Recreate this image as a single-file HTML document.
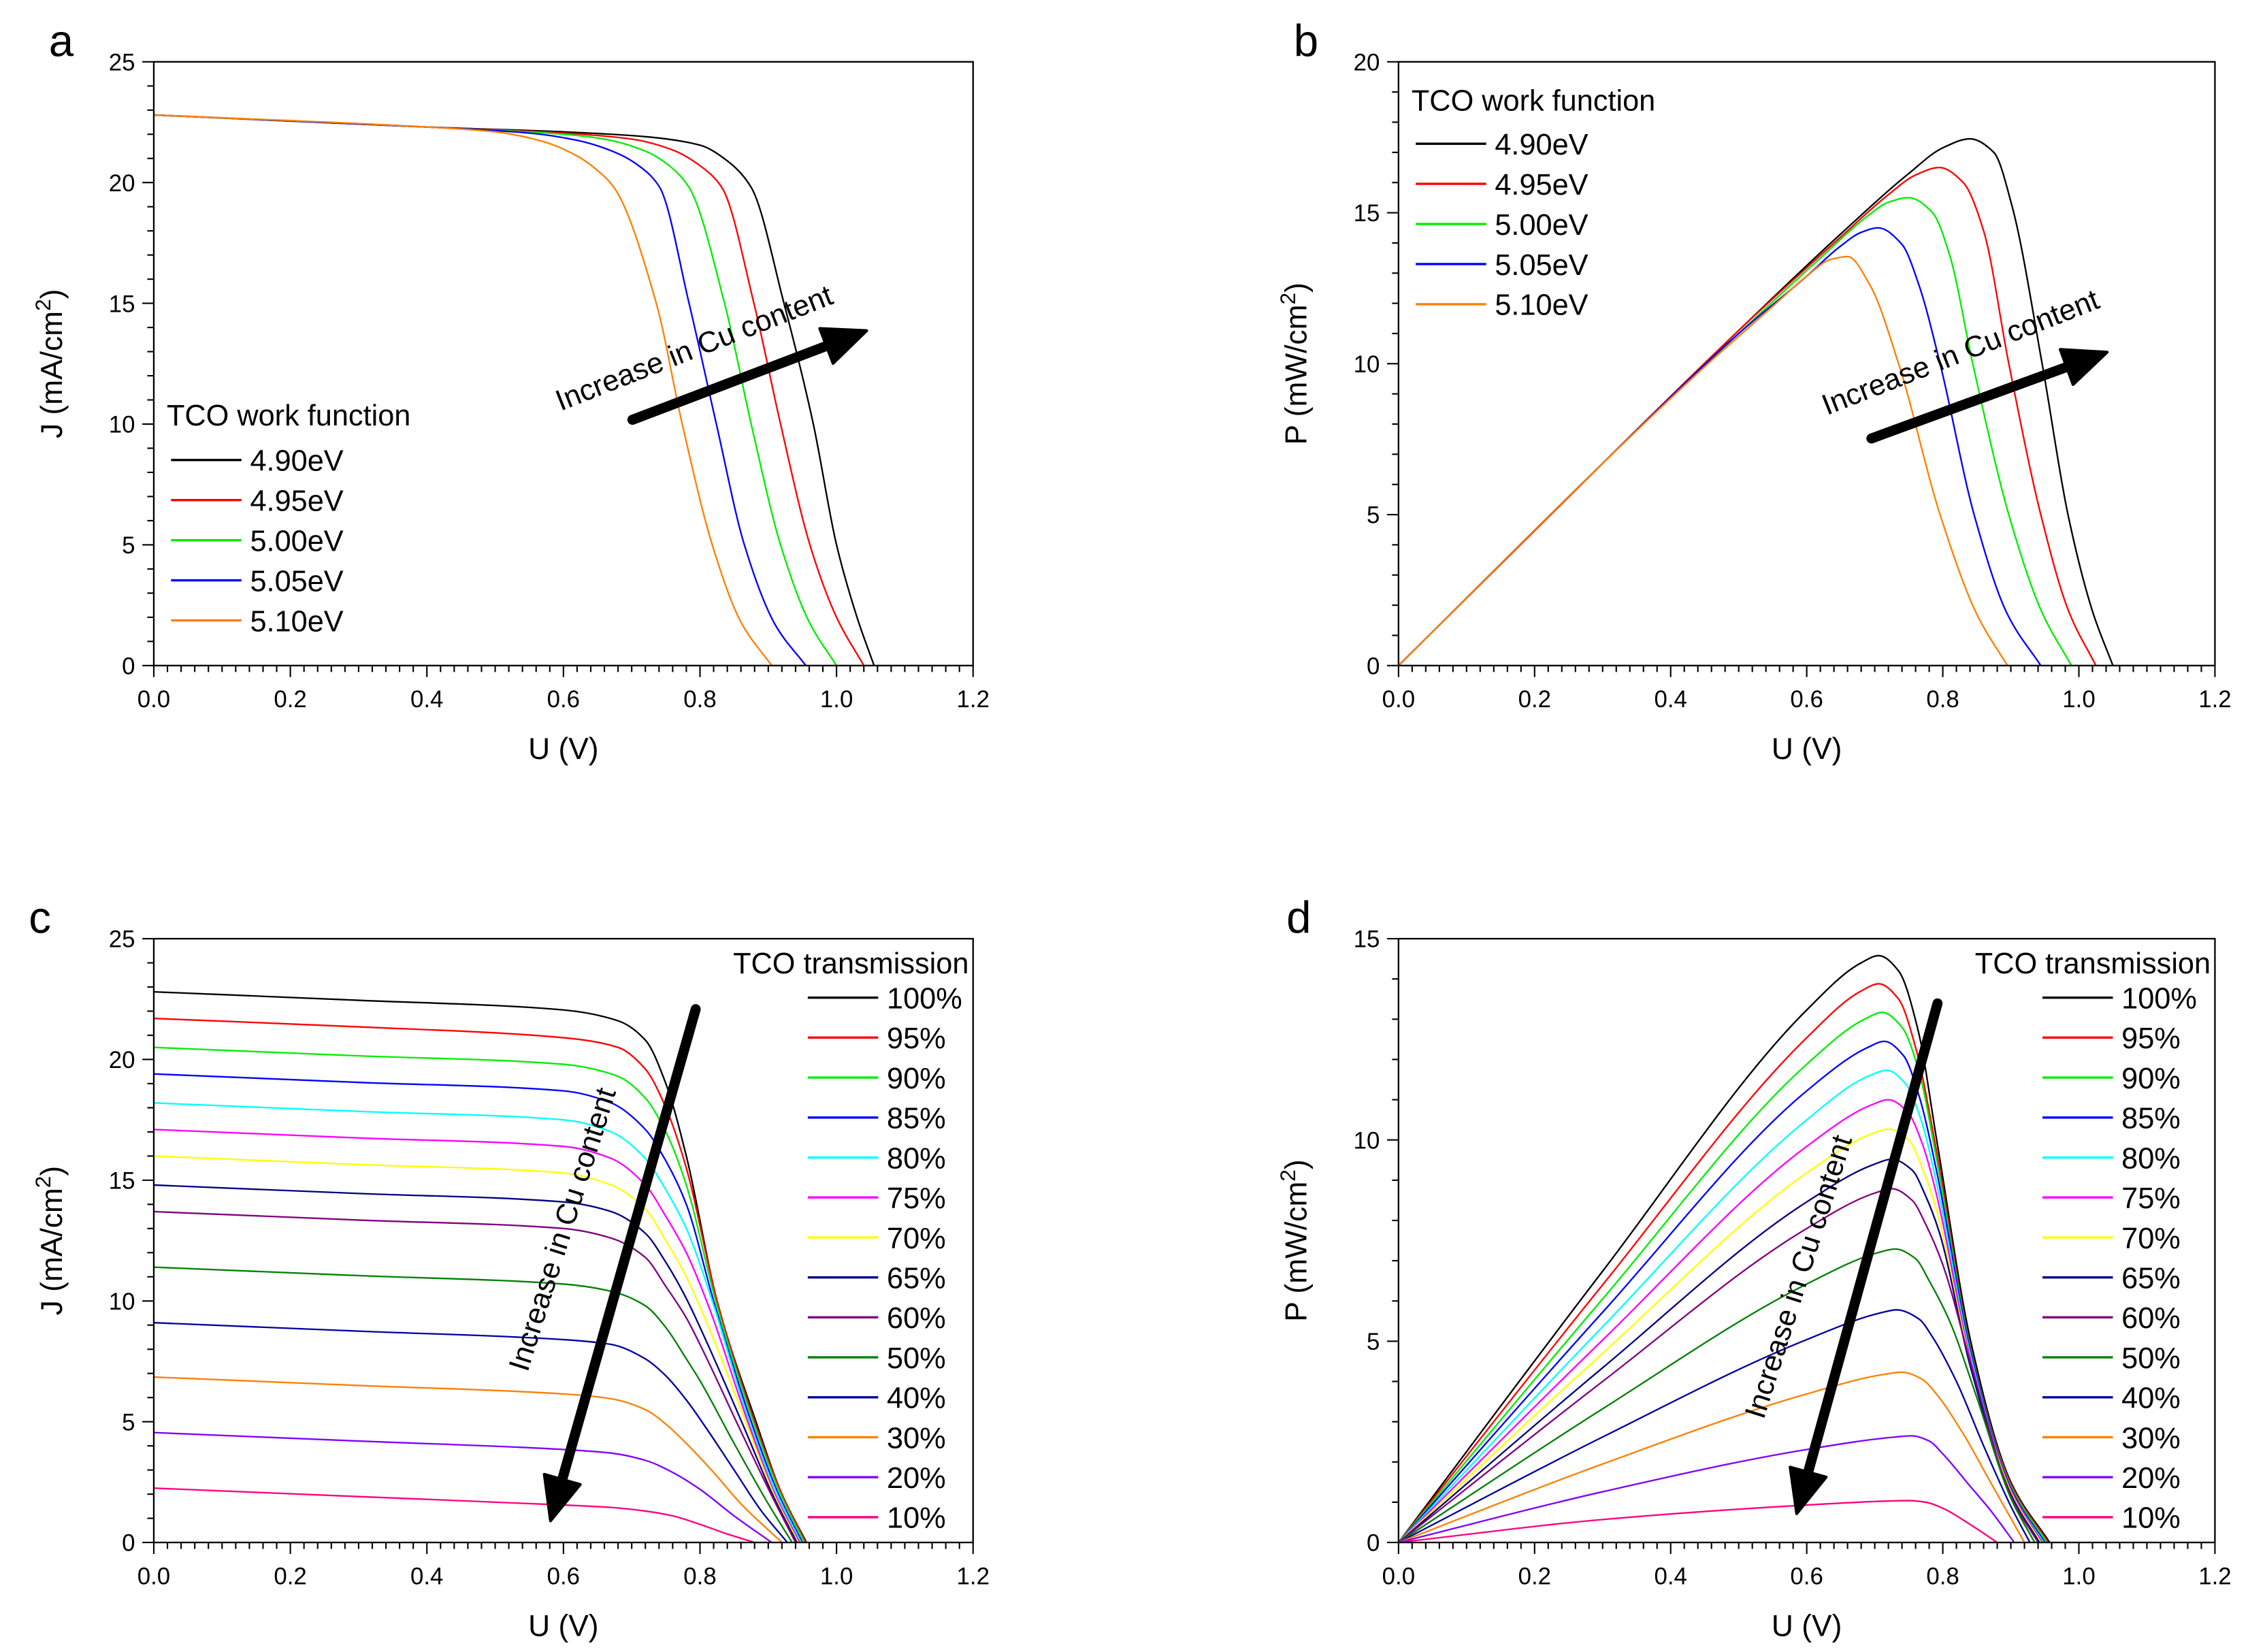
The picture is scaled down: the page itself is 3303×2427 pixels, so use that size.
<!DOCTYPE html>
<html><head><meta charset="utf-8"><style>
html,body{margin:0;padding:0;background:#fff;}
svg{display:block;}
text{font-family:"Liberation Sans",Arial,sans-serif;fill:#000;}
</style></head><body>
<svg id="fig" width="3303" height="2427" viewBox="0 0 1564 1149.2" preserveAspectRatio="none" xmlns="http://www.w3.org/2000/svg"></svg>
<script>
// ---------- Panel a: J-V vs work function ----------
const aLabels = ["4.90eV","4.95eV","5.00eV","5.05eV","5.10eV"];
const aColors = ["#000000","#ff0000","#00ee00","#0000ff","#ff8000"];
const aU490 = [0,0.4,0.6,0.72,0.8,0.84,0.875,0.923,0.966,1.0,1.03,1.055];
const aJ490 = [22.8,22.3,22.1,21.9,21.55,20.9,19.8,15,10,5,2,0];
const aU495 = [0,0.4,0.6,0.7,0.76,0.8,0.832,0.879,0.918,0.961,1.0,1.04];
const aJ495 = [22.8,22.3,22.05,21.8,21.35,20.7,19.8,15,10,5,2,0];
const aU500 = [0,0.4,0.6,0.66,0.72,0.755,0.784,0.836,0.875,0.918,0.96,1.0];
const aJ500 = [22.8,22.3,22.0,21.8,21.3,20.7,19.8,15,10,5,1.8,0];
const aU505 = [0,0.4,0.55,0.62,0.68,0.715,0.741,0.784,0.824,0.865,0.91,0.955];
const aJ505 = [22.8,22.3,22.05,21.75,21.2,20.6,19.8,15,10,5,1.7,0];
const aU510 = [0,0.4,0.5,0.57,0.62,0.65,0.674,0.736,0.774,0.818,0.86,0.905];
const aJ510 = [22.8,22.3,22.1,21.7,21.1,20.5,19.8,15,10,5,1.8,0];
// ---------- Panel b: P-V vs work function ----------
const bU490 = [0,0.3,0.5,0.65,0.75,0.8,0.84,0.875,0.902,0.946,0.984,1.02,1.05];
const bP490 = [0,6.7,11.1,14.3,16.3,17.15,17.45,17.0,15.2,10,5,1.8,0];
const bU495 = [0,0.3,0.5,0.65,0.72,0.76,0.795,0.83,0.86,0.897,0.944,0.985,1.025];
const bP495 = [0,6.7,11.1,14.2,15.6,16.25,16.5,16.0,14.4,10,5,1.8,0];
const bU500 = [0,0.3,0.5,0.62,0.69,0.72,0.75,0.785,0.81,0.844,0.897,0.945,0.989];
const bP500 = [0,6.7,11.0,13.5,14.9,15.35,15.5,15.0,13.6,10,5,1.8,0];
const bU505 = [0,0.3,0.5,0.6,0.65,0.68,0.705,0.74,0.765,0.796,0.846,0.895,0.944];
const bP505 = [0,6.7,11.0,12.9,13.9,14.35,14.5,13.95,12.6,10,5,1.7,0];
const bU510 = [0,0.3,0.45,0.55,0.6,0.635,0.66,0.693,0.735,0.796,0.85,0.895];
const bP510 = [0,6.7,9.9,11.9,12.9,13.45,13.55,12.6,10,5,1.7,0];
// ---------- Panel c: J-V vs transmission ----------
const cLabels = ["100%","95%","90%","85%","80%","75%","70%","65%","60%","50%","40%","30%","20%","10%"];
const cColors = ["#000000","#ff0000","#00ee00","#0000ff","#00ffff","#ff00ff","#ffff00","#000080","#800080","#008000","#0000a0","#ff8000","#8000ff","#ff0080"];
const cU100 = [0,0.3,0.6,0.68,0.72,0.75,0.78,0.825,0.882,0.92,0.956];
const cJ100 = [22.8,22.45,22.05,21.6,20.8,19,16,10,5,2,0];
const cU95 = [0,0.3,0.6,0.68,0.72,0.75,0.78,0.825,0.88,0.92,0.955];
const cJ95 = [21.7,21.35,20.9,20.5,19.6,18.0,15.5,10,5,2,0];
const cU90 = [0,0.3,0.6,0.68,0.72,0.75,0.78,0.823,0.878,0.918,0.953];
const cJ90 = [20.5,20.15,19.8,19.3,18.4,17,14.8,10,5,2,0];
const cU85 = [0,0.3,0.6,0.67,0.72,0.75,0.78,0.82,0.875,0.915,0.95];
const cJ85 = [19.4,19.05,18.7,18.2,17.1,15.8,14,10,5,2,0];
const cU80 = [0,0.3,0.6,0.67,0.72,0.75,0.78,0.818,0.872,0.913,0.948];
const cJ80 = [18.2,17.85,17.5,17.0,15.9,14.6,13,10,5,2,0];
const cU75 = [0,0.3,0.6,0.67,0.72,0.75,0.78,0.815,0.87,0.91,0.946];
const cJ75 = [17.1,16.75,16.4,15.9,14.8,13.5,12,9.6,5,2,0];
const cU70 = [0,0.3,0.6,0.67,0.72,0.75,0.78,0.81,0.867,0.908,0.944];
const cJ70 = [16.0,15.65,15.3,14.8,13.8,12.5,11,9.1,5,2,0];
const cU65 = [0,0.3,0.6,0.67,0.72,0.75,0.78,0.805,0.864,0.906,0.942];
const cJ65 = [14.8,14.45,14.1,13.7,12.8,11.6,10.1,8.6,4.8,2,0];
const cU60 = [0,0.3,0.6,0.67,0.72,0.75,0.78,0.8,0.86,0.904,0.94];
const cJ60 = [13.7,13.35,13.0,12.6,11.8,10.6,9.3,8.2,4.6,2,0];
const cU50 = [0,0.3,0.6,0.67,0.72,0.75,0.78,0.8,0.85,0.9,0.935];
const cJ50 = [11.4,11.05,10.7,10.4,9.8,8.9,7.6,6.7,4.1,1.6,0];
const cU40 = [0,0.3,0.6,0.67,0.72,0.75,0.78,0.81,0.85,0.89,0.928];
const cJ40 = [9.1,8.75,8.4,8.2,7.6,6.9,5.9,4.7,3.0,1.3,0];
const cU30 = [0,0.3,0.6,0.67,0.72,0.75,0.78,0.82,0.86,0.92];
const cJ30 = [6.85,6.5,6.15,5.95,5.5,4.9,4.1,2.9,1.6,0];
const cU20 = [0,0.3,0.6,0.67,0.72,0.76,0.8,0.85,0.905];
const cJ20 = [4.55,4.2,3.85,3.7,3.4,2.9,2.2,1.1,0];
const cU10 = [0,0.3,0.6,0.67,0.72,0.76,0.8,0.84,0.88];
const cJ10 = [2.25,1.9,1.55,1.45,1.3,1.1,0.75,0.35,0];
// ---------- Panel d: P-V vs transmission ----------
const dU100 = [0,0.3,0.6,0.68,0.706,0.735,0.764,0.791,0.841,0.9,0.957];
const dP100 = [0,6.74,13.23,14.4,14.58,14.2,12.7,10,5,1.5,0];
const dU95 = [0,0.3,0.6,0.68,0.706,0.735,0.76,0.79,0.84,0.9,0.955];
const dP95 = [0,6.4,12.54,13.7,13.88,13.5,12.3,9.8,4.9,1.45,0];
const dU90 = [0,0.3,0.6,0.685,0.711,0.74,0.765,0.79,0.84,0.9,0.953];
const dP90 = [0,6.05,11.88,13.0,13.17,12.8,11.7,9.6,4.85,1.4,0];
const dU85 = [0,0.3,0.6,0.69,0.714,0.742,0.765,0.79,0.84,0.9,0.95];
const dP85 = [0,5.72,11.22,12.3,12.45,12.1,11.1,9.3,4.8,1.35,0];
const dU80 = [0,0.3,0.6,0.69,0.718,0.745,0.768,0.79,0.84,0.9,0.948];
const dP80 = [0,5.36,10.5,11.58,11.73,11.4,10.5,9.0,4.7,1.3,0];
const dU75 = [0,0.3,0.6,0.695,0.72,0.748,0.77,0.79,0.84,0.9,0.946];
const dP75 = [0,5.03,9.84,10.87,11.0,10.7,9.9,8.7,4.6,1.3,0];
const dU70 = [0,0.3,0.6,0.695,0.72,0.75,0.77,0.79,0.84,0.9,0.944];
const dP70 = [0,4.7,9.18,10.15,10.27,10.0,9.3,8.3,4.5,1.25,0];
const dU65 = [0,0.3,0.6,0.7,0.725,0.755,0.775,0.795,0.84,0.9,0.942];
const dP65 = [0,4.34,8.46,9.4,9.52,9.25,8.6,7.7,4.4,1.2,0];
const dU60 = [0,0.3,0.6,0.7,0.725,0.755,0.775,0.8,0.845,0.9,0.94];
const dP60 = [0,4.0,7.8,8.68,8.79,8.5,7.9,6.9,4.2,1.15,0];
const dU50 = [0,0.3,0.6,0.705,0.73,0.76,0.78,0.81,0.85,0.9,0.935];
const dP50 = [0,3.32,6.42,7.2,7.29,7.05,6.5,5.5,3.6,1.1,0];
const dU40 = [0,0.3,0.6,0.71,0.732,0.765,0.785,0.82,0.86,0.9,0.928];
const dP40 = [0,2.62,5.04,5.71,5.78,5.55,5.1,4.0,2.4,0.9,0];
const dU30 = [0,0.3,0.6,0.715,0.74,0.77,0.79,0.83,0.87,0.92];
const dP30 = [0,1.95,3.69,4.18,4.23,4.05,3.7,2.7,1.5,0];
const dU20 = [0,0.3,0.6,0.73,0.754,0.78,0.8,0.84,0.87,0.905];
const dP20 = [0,1.26,2.31,2.62,2.65,2.52,2.2,1.4,0.8,0];
const dU10 = [0,0.3,0.6,0.72,0.75,0.775,0.8,0.84,0.88];
const dP10 = [0,0.57,0.93,1.03,1.04,1.0,0.85,0.45,0];
// tick labels
const xTickLabels = ["0.0","0.2","0.4","0.6","0.8","1.0","1.2"];
const aYTickLabels = ["0","5","10","15","20","25"];
const bYTickLabels = ["0","5","10","15","20"];
const dYTickLabels = ["0","5","10","15"];

const NS = "http://www.w3.org/2000/svg";
const svg = document.getElementById('fig');
function mk(tag, attrs, parent){const e=document.createElementNS(NS,tag);for(const k in attrs)e.setAttribute(k,attrs[k]);(parent||svg).appendChild(e);return e;}
// monotone cubic (Fritsch-Carlson) through pixel points with increasing x
function smoothPath(pts){
  const n=pts.length;
  const dx=[],s=[];
  for(let i=0;i<n-1;i++){dx[i]=pts[i+1][0]-pts[i][0];s[i]=(pts[i+1][1]-pts[i][1])/dx[i];}
  const m=new Array(n);
  m[0]=s[0];m[n-1]=s[n-2];
  for(let i=1;i<n-1;i++){
    if(s[i-1]*s[i]<=0)m[i]=0;
    else{const w1=2*dx[i]+dx[i-1],w2=dx[i]+2*dx[i-1];m[i]=(w1+w2)/(w1/s[i-1]+w2/s[i]);}
  }
  let d="M"+pts[0][0].toFixed(2)+","+pts[0][1].toFixed(2);
  for(let i=0;i<n-1;i++){
    const h=dx[i];
    const c1=[pts[i][0]+h/3,pts[i][1]+m[i]*h/3];
    const c2=[pts[i+1][0]-h/3,pts[i+1][1]-m[i+1]*h/3];
    d+=" C"+c1[0].toFixed(2)+","+c1[1].toFixed(2)+" "+c2[0].toFixed(2)+","+c2[1].toFixed(2)+" "+pts[i+1][0].toFixed(2)+","+pts[i+1][1].toFixed(2);
  }
  return d;
}
function panel(o){
  const g=mk('g',{});
  
  
  const xs=v=>o.x0+(v/1.2)*(o.x1-o.x0);
  const ys=v=>o.y0-(v/o.ymax)*(o.y0-o.y1);
  o.series.forEach((s,i)=>{
    const pts=s.u.map((u,k)=>[xs(u),ys(s.v[k])]);
    const p=mk('path',{d:smoothPath(pts),fill:'none',stroke:s.color,'stroke-width':1.1,'stroke-linejoin':'round'},g);
    
    
  });
  const fr=mk('rect',{x:o.x0,y:o.y1,width:o.x1-o.x0,height:o.y0-o.y1,fill:'none',stroke:'#000','stroke-width':1.1},g);
  
  
  for(let i=0;i<=60;i++){
    const v=i*0.02,x=xs(v),maj=(i%10===0);
    const t=mk('line',{x1:x,x2:x,y1:o.y0,y2:o.y0+(maj?8:4.5),stroke:'#000','stroke-width':1},g);
    
    
  }
  xTickLabels.forEach((lab,i)=>{
    const t=mk('text',{x:xs(i*0.2),y:o.y0+29,'font-size':16.5,'text-anchor':'middle'},g);t.textContent=lab;
    
    
  });
  for(let v=0;v<=o.ymax;v++){
    const y=ys(v),maj=(v%5===0);
    const t=mk('line',{x1:o.x0-(maj?8:4.5),x2:o.x0,y1:y,y2:y,stroke:'#000','stroke-width':1},g);
    
    
  }
  o.yLabels.forEach((lab,i)=>{
    const t=mk('text',{x:o.x0-13,y:ys(i*5)+6,'font-size':16.5,'text-anchor':'end'},g);t.textContent=lab;
    
    
  });
  const xt=mk('text',{x:(o.x0+o.x1)/2,y:o.y0+65,'font-size':21,'text-anchor':'middle'},g);xt.textContent='U (V)';
  
  
  const yc=(o.y0+o.y1)/2;
  const yt=mk('text',{x:0,y:0,'font-size':21,'text-anchor':'middle',transform:`translate(${o.x0-64},${yc}) rotate(-90)`},g);
  yt.innerHTML=o.ytitle+'<tspan dy="-8" font-size="15">2</tspan><tspan dy="8">)</tspan>';
  
  
  const pl=mk('text',{x:o.letterX,y:o.y1-4,'font-size':31},g);pl.textContent=o.letter;
  
  
  const L=o.legend;
  const lt=mk('text',{x:L.titleX,y:L.titleY,'font-size':20.5,'text-anchor':L.anchor},g);lt.textContent=L.title;
  
  
  o.series.forEach((s,i)=>{
    const y=L.y+i*L.step;
    const ln=mk('line',{x1:L.lx,x2:L.lx+49,y1:y,y2:y,stroke:s.color,'stroke-width':1.6},g);
    
    
    const tx=mk('text',{x:L.lx+55,y:y+7.5,'font-size':20.5},g);tx.textContent=s.label;
    
    
  });
  const A=o.arrow;
  const dx=A.x2-A.x1,dy=A.y2-A.y1,len=Math.hypot(dx,dy),ux=dx/len,uy=dy/len;
  const hl=30,hw=13;
  const bx=A.x2-ux*hl,by=A.y2-uy*hl;
  const al=mk('line',{x1:A.x1,y1:A.y1,x2:bx,y2:by,stroke:'#000','stroke-width':7,'stroke-linecap':'round'},g);
  
  
  const ah=mk('polygon',{points:`${A.x2},${A.y2} ${bx-uy*hw},${by+ux*hw} ${bx+uy*hw},${by-ux*hw}`,fill:'#000',stroke:'#000','stroke-width':2,'stroke-linejoin':'round'},g);
  
  
  const at=mk('text',{x:0,y:0,'font-size':20.5,transform:`translate(${A.tx},${A.ty}) rotate(${A.ta})`},g);at.textContent='Increase in Cu content';
  
  
}
const aSeries=[[aU490,aJ490],[aU495,aJ495],[aU500,aJ500],[aU505,aJ505],[aU510,aJ510]].map((p,i)=>({u:p[0],v:p[1],color:aColors[i],label:aLabels[i]}));
const bSeries=[[bU490,bP490],[bU495,bP495],[bU500,bP500],[bU505,bP505],[bU510,bP510]].map((p,i)=>({u:p[0],v:p[1],color:aColors[i],label:aLabels[i]}));
const cSeries=[[cU100,cJ100],[cU95,cJ95],[cU90,cJ90],[cU85,cJ85],[cU80,cJ80],[cU75,cJ75],[cU70,cJ70],[cU65,cJ65],[cU60,cJ60],[cU50,cJ50],[cU40,cJ40],[cU30,cJ30],[cU20,cJ20],[cU10,cJ10]].map((p,i)=>({u:p[0],v:p[1],color:cColors[i],label:cLabels[i]}));
const dSeries=[[dU100,dP100],[dU95,dP95],[dU90,dP90],[dU85,dP85],[dU80,dP80],[dU75,dP75],[dU70,dP70],[dU65,dP65],[dU60,dP60],[dU50,dP50],[dU40,dP40],[dU30,dP30],[dU20,dP20],[dU10,dP10]].map((p,i)=>({u:p[0],v:p[1],color:cColors[i],label:cLabels[i]}));

panel({name:'panel-a',letter:'a',letterX:34,x0:107,x1:677,y0:463,y1:43,ymax:25,yLabels:aYTickLabels,ytitle:'J (mA/cm',series:aSeries,
  legend:{title:'TCO work function',titleX:116,titleY:296,anchor:'start',lx:119,y:320,step:27.9},
  arrow:{x1:440,y1:292,x2:603,y2:230,tx:390,ty:286,ta:-21.5}});
panel({name:'panel-b',letter:'b',letterX:900,x0:973,x1:1541,y0:463,y1:43,ymax:20,yLabels:bYTickLabels,ytitle:'P (mW/cm',series:bSeries,
  legend:{title:'TCO work function',titleX:982,titleY:77,anchor:'start',lx:985,y:100,step:27.9},
  arrow:{x1:1302,y1:305,x2:1466,y2:245,tx:1271,ty:289,ta:-21.5}});
panel({name:'panel-c',letter:'c',letterX:20,x0:107,x1:677,y0:1073,y1:653,ymax:25,yLabels:aYTickLabels,ytitle:'J (mA/cm',series:cSeries,
  legend:{title:'TCO transmission',titleX:674,titleY:677,anchor:'end',lx:562,y:694,step:27.8},
  arrow:{x1:484,y1:702,x2:383,y2:1058,tx:367,ty:955,ta:-72.5}});
panel({name:'panel-d',letter:'d',letterX:895,x0:973,x1:1541,y0:1073,y1:653,ymax:15,yLabels:dYTickLabels,ytitle:'P (mW/cm',series:dSeries,
  legend:{title:'TCO transmission',titleX:1538,titleY:677,anchor:'end',lx:1421,y:694,step:27.8},
  arrow:{x1:1348,y1:698,x2:1250,y2:1053,tx:1227,ty:988,ta:-72.5}});
</script>
</body></html>
